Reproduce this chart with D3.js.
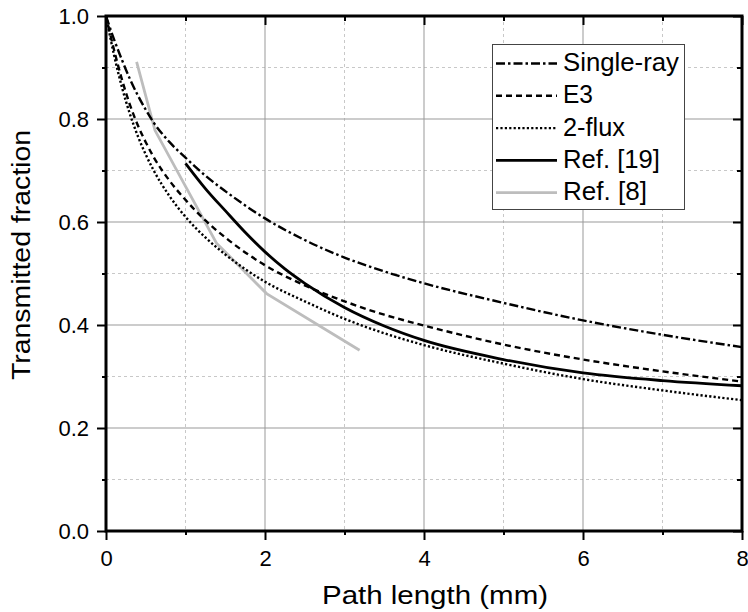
<!DOCTYPE html>
<html>
<head>
<meta charset="utf-8">
<script src="https://cdn.jsdelivr.net/npm/d3@7"></script>
<style>
  html, body { margin: 0; padding: 0; background: #fff; }
  svg { display: block; font-family: "Liberation Sans", Arial, sans-serif; }
</style>
</head>
<body>
<svg id="chart" width="748" height="612"></svg>
<script>
// ---- data ----
const modelX = [0, 0.1, 0.2, 0.3, 0.4, 0.5, 0.6, 0.8, 1, 1.25, 1.5, 2, 2.5, 3, 3.5, 4, 5, 6, 7, 8];
const singleRay = [1.0, 0.955, 0.915, 0.878, 0.846, 0.818, 0.793, 0.755, 0.725, 0.69, 0.66, 0.607, 0.565, 0.531, 0.504, 0.481, 0.443, 0.409, 0.381, 0.357];
const e3 = [1.0, 0.935, 0.877, 0.828, 0.788, 0.755, 0.726, 0.68, 0.643, 0.603, 0.57, 0.516, 0.477, 0.446, 0.42, 0.399, 0.362, 0.333, 0.31, 0.29];
const twoFlux = [1.0, 0.925, 0.862, 0.81, 0.767, 0.731, 0.70, 0.65, 0.61, 0.57, 0.537, 0.484, 0.446, 0.412, 0.384, 0.361, 0.325, 0.295, 0.273, 0.254];
const ref19X = [1, 1.25, 1.5, 1.75, 2, 2.25, 2.5, 3, 3.5, 4, 5, 6, 7, 8];
const ref19 = [0.714, 0.665, 0.622, 0.58, 0.542, 0.509, 0.481, 0.434, 0.398, 0.37, 0.333, 0.307, 0.292, 0.282];
const ref8X = [0.385, 0.616, 1.39, 2.02, 3.19];
const ref8 = [0.911, 0.778, 0.559, 0.461, 0.351];
const seriesNames = ["Single-ray", "E3", "2-flux", "Ref. [19]", "Ref. [8]"];
const xMajorTicks = [0, 2, 4, 6, 8];
const xMinorTicks = [1, 3, 5, 7];
const yMajorTicks = [0, 0.2, 0.4, 0.6, 0.8, 1.0];
const yMinorTicks = [0.1, 0.3, 0.5, 0.7, 0.9];
const xTitle = "Path length (mm)";
const yTitle = "Transmitted fraction";

// ---- layout ----
const L = 106, R = 742, T = 16, B = 531;
const svg = d3.select("#chart");
const x = d3.scaleLinear().domain([0, 8]).range([L, R]);
const y = d3.scaleLinear().domain([0, 1]).range([B, T]);

// grid
const grid = svg.append("g");
grid.selectAll(".gxm").data(xMinorTicks).join("line")
  .attr("x1", d => x(d)).attr("x2", d => x(d)).attr("y1", T).attr("y2", B)
  .attr("stroke", "#c8c8c8").attr("stroke-width", 1).attr("stroke-dasharray", "3,3");
grid.selectAll(".gym").data(yMinorTicks).join("line")
  .attr("y1", d => y(d)).attr("y2", d => y(d)).attr("x1", L).attr("x2", R)
  .attr("stroke", "#c8c8c8").attr("stroke-width", 1).attr("stroke-dasharray", "3,3");
grid.selectAll(".gxM").data(xMajorTicks.slice(1, -1)).join("line")
  .attr("x1", d => x(d)).attr("x2", d => x(d)).attr("y1", T).attr("y2", B)
  .attr("stroke", "#999").attr("stroke-width", 1);
grid.selectAll(".gyM").data(yMajorTicks.slice(1, -1)).join("line")
  .attr("y1", d => y(d)).attr("y2", d => y(d)).attr("x1", L).attr("x2", R)
  .attr("stroke", "#999").attr("stroke-width", 1);

// clip
svg.append("clipPath").attr("id", "clip").append("rect")
  .attr("x", L).attr("y", T).attr("width", R - L).attr("height", B - T);

const styles = [
  { color: "#000", width: 2.4, dash: "9,3,2.5,3" },
  { color: "#000", width: 2.4, dash: "6,4" },
  { color: "#000", width: 2.4, dash: "2.2,2.2" },
  { color: "#000", width: 2.8, dash: null },
  { color: "#bdbdbd", width: 2.8, dash: null }
];
const series = [
  { xs: modelX, ys: singleRay, curve: d3.curveMonotoneX },
  { xs: modelX, ys: e3, curve: d3.curveMonotoneX },
  { xs: modelX, ys: twoFlux, curve: d3.curveMonotoneX },
  { xs: ref19X, ys: ref19, curve: d3.curveMonotoneX },
  { xs: ref8X, ys: ref8, curve: d3.curveLinear }
];
const plot = svg.append("g").attr("clip-path", "url(#clip)");
[4, 0, 1, 2, 3].forEach(i => {
  const s = series[i], st = styles[i];
  const pts = s.xs.map((xv, j) => [xv, s.ys[j]]);
  const line = d3.line().x(d => x(d[0])).y(d => y(d[1])).curve(s.curve);
  plot.append("path").attr("d", line(pts))
    .attr("fill", "none").attr("stroke", st.color).attr("stroke-width", st.width)
    .attr("stroke-dasharray", st.dash);
});

// legend
const lg = svg.append("g");
lg.append("rect").attr("x", 492.5).attr("y", 44.5).attr("width", 192).attr("height", 165)
  .attr("fill", "#fff").attr("stroke", "#444").attr("stroke-width", 1);
const legendWidths = [116, 30, 62, 97, 84];
seriesNames.forEach((name, i) => {
  const base = 71 + i * 32.3;
  const st = styles[i];
  lg.append("line").attr("x1", 496).attr("x2", 557).attr("y1", base - 7.5).attr("y2", base - 7.5)
    .attr("stroke", st.color).attr("stroke-width", st.width).attr("stroke-dasharray", st.dash);
  lg.append("text").attr("x", 563).attr("y", base).attr("font-size", 25)
    .attr("textLength", legendWidths[i]).attr("lengthAdjust", "spacingAndGlyphs")
    .attr("fill", "#000").text(name);
});

// axes
function styleAxis(g) {
  g.select(".domain").remove();
  g.selectAll(".tick line").attr("stroke", "#000").attr("stroke-width", 2);
  g.selectAll("text").attr("font-size", 22).attr("fill", "#000")
    .attr("font-family", "'Liberation Sans', Arial, sans-serif");
}
svg.append("g").attr("transform", `translate(0,${B})`)
  .call(d3.axisBottom(x).tickValues(xMajorTicks).tickSize(9).tickPadding(10).tickFormat(d3.format("d")))
  .call(styleAxis);
svg.append("g").attr("transform", `translate(0,${B})`)
  .call(d3.axisBottom(x).tickValues(xMinorTicks).tickSize(4).tickFormat(""))
  .call(styleAxis);
svg.append("g").attr("transform", `translate(${L},0)`)
  .call(d3.axisLeft(y).tickValues(yMajorTicks).tickSize(9).tickPadding(8).tickFormat(d3.format(".1f")))
  .call(styleAxis);
svg.append("g").attr("transform", `translate(${L},0)`)
  .call(d3.axisLeft(y).tickValues(yMinorTicks).tickSize(4).tickFormat(""))
  .call(styleAxis);
svg.append("g").attr("transform", `translate(0,${T})`)
  .call(d3.axisTop(x).tickValues(xMajorTicks).tickSize(-9).tickFormat(""))
  .call(styleAxis);
svg.append("g").attr("transform", `translate(0,${T})`)
  .call(d3.axisTop(x).tickValues(xMinorTicks).tickSize(-5).tickFormat(""))
  .call(styleAxis);
svg.append("g").attr("transform", `translate(${R},0)`)
  .call(d3.axisRight(y).tickValues(yMajorTicks).tickSize(-9).tickFormat(""))
  .call(styleAxis);
svg.append("g").attr("transform", `translate(${R},0)`)
  .call(d3.axisRight(y).tickValues(yMinorTicks).tickSize(-5).tickFormat(""))
  .call(styleAxis);

// frame
svg.append("rect").attr("x", L).attr("y", T).attr("width", R - L).attr("height", B - T)
  .attr("fill", "none").attr("stroke", "#000").attr("stroke-width", 3);

// titles
svg.append("text").attr("x", 435).attr("y", 604).attr("text-anchor", "middle")
  .attr("font-size", 25).attr("textLength", 226).attr("lengthAdjust", "spacingAndGlyphs")
  .text(xTitle);
svg.append("text").attr("transform", "translate(30,255) rotate(-90)").attr("text-anchor", "middle")
  .attr("font-size", 25).attr("textLength", 250).attr("lengthAdjust", "spacingAndGlyphs")
  .text(yTitle);
</script>
</body>
</html>
